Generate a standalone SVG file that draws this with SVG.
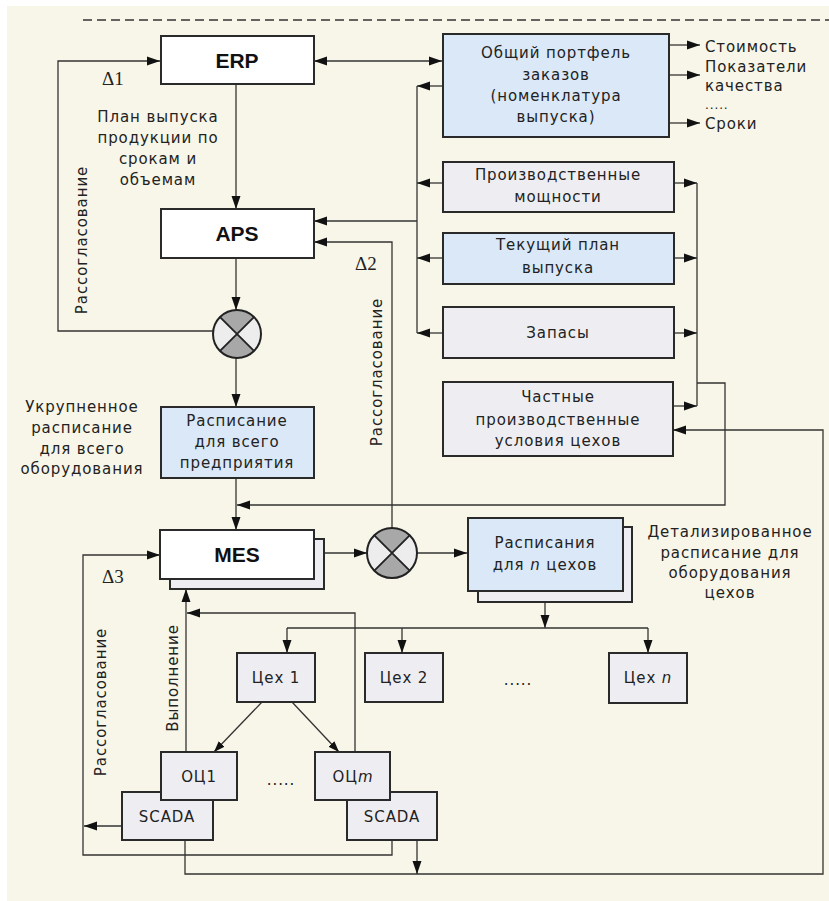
<svg xmlns="http://www.w3.org/2000/svg" width="829" height="901" viewBox="0 0 829 901">
<defs>
<marker id="ah" markerWidth="13" markerHeight="10" refX="13" refY="5" orient="auto-start-reverse" markerUnits="userSpaceOnUse">
<path d="M0,0.5 L13,5 L0,9.5 z" fill="#111"/>
</marker>
<marker id="as" markerWidth="11" markerHeight="9" refX="11" refY="4.5" orient="auto" markerUnits="userSpaceOnUse">
<path d="M0,0.5 L11,4.5 L0,8.5 z" fill="#111"/>
</marker>
</defs>
<style>
.bg{fill:#f8f6e9}
.box{stroke:#2a2a2a;stroke-width:2}
.w{fill:#ffffff}
.b{fill:#dae8f7}
.g{fill:#eeeef2}
.c{fill:none;stroke:#333;stroke-width:1.3}
.t{font-family:"DejaVu Sans",Verdana,sans-serif;font-size:15px;letter-spacing:0.9px;fill:#222;text-anchor:middle}
.l{text-anchor:start}
.h{font-family:"Liberation Sans",Arial,sans-serif;font-size:21px;font-weight:bold;fill:#111;text-anchor:middle}
.d{font-family:"Liberation Serif","Times New Roman",serif;font-size:19px;fill:#222}
.q1{fill:#a8a8a8}
.q2{fill:#ededed}
</style>
<rect x="0" y="0" width="829" height="901" fill="#ffffff"/>
<rect class="bg" x="7" y="6" width="822" height="895"/>
<line x1="83" y1="20" x2="829" y2="20" stroke="#333" stroke-width="1.3" stroke-dasharray="9,5"/>

<g id="connectors">
<path class="c" d="M236,84 V209" marker-end="url(#ah)"/>
<path class="c" d="M236,258 V310" marker-end="url(#ah)"/>
<path class="c" d="M236,358 V407" marker-end="url(#ah)"/>
<path class="c" d="M236,478 V530" marker-end="url(#ah)"/>
<path class="c" d="M213,331 H58 V61 H160" marker-end="url(#ah)"/>
<path class="c" d="M314,61 H442" marker-start="url(#ah)" marker-end="url(#ah)"/>
<path class="c" d="M442,86 H417" marker-end="url(#ah)"/>
<path class="c" d="M417,86 V333"/>
<path class="c" d="M442,183 H417" marker-end="url(#ah)"/>
<path class="c" d="M442,258 H417" marker-end="url(#ah)"/>
<path class="c" d="M442,333 H417" marker-end="url(#ah)"/>
<path class="c" d="M417,221 H314" marker-end="url(#ah)"/>
<path class="c" d="M674,183 H697" marker-end="url(#ah)"/>
<path class="c" d="M674,258 H697" marker-end="url(#ah)"/>
<path class="c" d="M674,333 H697" marker-end="url(#ah)"/>
<path class="c" d="M673,406 H697" marker-end="url(#ah)"/>
<path class="c" d="M697,183 V406"/>
<path class="c" d="M697,383 H725 V505 H237" marker-end="url(#ah)"/>
<path class="c" d="M669,45 H700" marker-end="url(#ah)"/>
<path class="c" d="M669,75 H700" marker-end="url(#ah)"/>
<path class="c" d="M669,123 H700" marker-end="url(#ah)"/>
<path class="c" d="M324,553 H367" marker-end="url(#ah)"/>
<path class="c" d="M417,553 H467" marker-end="url(#ah)"/>
<path class="c" d="M392,528 V242 H314" marker-end="url(#ah)"/>
<path class="c" d="M545,602 V628" marker-end="url(#ah)"/>
<path class="c" d="M287,628 H648"/>
<path class="c" d="M287,628 V653" marker-end="url(#ah)"/>
<path class="c" d="M402,628 V653" marker-end="url(#ah)"/>
<path class="c" d="M648,628 V653" marker-end="url(#ah)"/>
<path class="c" d="M262,702 L214,752" marker-end="url(#as)"/>
<path class="c" d="M292,702 L339,752" marker-end="url(#as)"/>
<path class="c" d="M186,752 V589" marker-end="url(#ah)"/>
<path class="c" d="M355,752 V613 H187" marker-end="url(#ah)"/>
<path class="c" d="M392,840 V855 H83 V555 H160" marker-end="url(#ah)"/>
<path class="c" d="M122,826 H84" marker-end="url(#ah)"/>
<path class="c" d="M185,840 V874 H823 V430 H673" marker-end="url(#ah)"/>
<path class="c" d="M417,840 V874" marker-end="url(#ah)"/>
</g>

<g id="erp">
<rect class="box w" x="161" y="36" width="153" height="48"/>
<text class="h" x="237" y="68">ERP</text>
</g>
<g id="aps">
<rect class="box w" x="161" y="209" width="153" height="49"/>
<text class="h" x="237" y="241">APS</text>
</g>
<g id="mes">
<rect class="box g" x="170" y="539" width="154" height="50"/>
<rect class="box w" x="160" y="530" width="154" height="49"/>
<text class="h" x="237" y="562">MES</text>
</g>
<g id="plan-label">
<text class="t" x="158" y="122">План выпуска</text>
<text class="t" x="158" y="143">продукции по</text>
<text class="t" x="158" y="164">срокам и</text>
<text class="t" x="158" y="185">объемам</text>
</g>
<g id="delta-labels">
<text class="d" x="102" y="85">Δ1</text>
<text class="d" x="355" y="270">Δ2</text>
<text class="d" x="102" y="583">Δ3</text>
</g>
<g id="mismatch-labels">
<text class="t" transform="translate(87,240) rotate(-90)">Рассогласование</text>
<text class="t" transform="translate(382,372) rotate(-90)">Рассогласование</text>
<text class="t" transform="translate(106,702) rotate(-90)">Рассогласование</text>
<text class="t" transform="translate(178,678) rotate(-90)">Выполнение</text>
</g>
<g id="portfolio">
<rect class="box b" x="443" y="34" width="226" height="103"/>
<text class="t" x="556" y="58">Общий портфель</text>
<text class="t" x="556" y="80">заказов</text>
<text class="t" x="556" y="101">(номенклатура</text>
<text class="t" x="556" y="122">выпуска)</text>
</g>
<g id="outputs">
<text class="t l" x="705" y="52">Стоимость</text>
<text class="t l" x="705" y="72">Показатели</text>
<text class="t l" x="705" y="91">качества</text>
<text class="t l" x="705" y="109" style="font-size:12px">.....</text>
<text class="t l" x="705" y="129">Сроки</text>
</g>
<g id="capacity">
<rect class="box g" x="443" y="162" width="231" height="50"/>
<text class="t" x="558" y="180">Производственные</text>
<text class="t" x="558" y="202">мощности</text>
</g>
<g id="current-plan">
<rect class="box b" x="443" y="233" width="231" height="51"/>
<text class="t" x="558" y="250">Текущий план</text>
<text class="t" x="558" y="273">выпуска</text>
</g>
<g id="stock">
<rect class="box g" x="443" y="307" width="231" height="51"/>
<text class="t" x="558" y="338">Запасы</text>
</g>
<g id="conditions">
<rect class="box g" x="443" y="382" width="230" height="74"/>
<text class="t" x="558" y="402">Частные</text>
<text class="t" x="558" y="425">производственные</text>
<text class="t" x="558" y="446">условия цехов</text>
</g>
<g id="circle1">
<circle cx="237" cy="334" r="24" class="q2"/>
<path class="q1" d="M237,334 L220.03,317.03 A24,24 0 0 1 253.97,317.03 Z"/>
<path class="q1" d="M237,334 L253.97,350.97 A24,24 0 0 1 220.03,350.97 Z"/>
<path d="M220.03,317.03 L253.97,350.97 M253.97,317.03 L220.03,350.97" stroke="#222" stroke-width="1.8"/>
<circle cx="237" cy="334" r="24" fill="none" stroke="#222" stroke-width="2"/>
</g>
<g id="enterprise-label">
<text class="t" x="82" y="412">Укрупненное</text>
<text class="t" x="82" y="433">расписание</text>
<text class="t" x="82" y="454">для всего</text>
<text class="t" x="82" y="474">оборудования</text>
</g>
<g id="enterprise-schedule">
<rect class="box b" x="161" y="407" width="153" height="71"/>
<text class="t" x="237" y="426">Расписание</text>
<text class="t" x="237" y="447">для всего</text>
<text class="t" x="237" y="468">предприятия</text>
</g>
<g id="circle2">
<circle cx="392" cy="553" r="25" class="q2"/>
<path class="q1" d="M392,553 L374.32,535.32 A25,25 0 0 1 409.68,535.32 Z"/>
<path class="q1" d="M392,553 L409.68,570.68 A25,25 0 0 1 374.32,570.68 Z"/>
<path d="M374.32,535.32 L409.68,570.68 M409.68,535.32 L374.32,570.68" stroke="#222" stroke-width="1.8"/>
<circle cx="392" cy="553" r="25" fill="none" stroke="#222" stroke-width="2"/>
</g>
<g id="shop-schedules">
<rect class="box g" x="478" y="527" width="154" height="75"/>
<rect class="box b" x="468" y="518" width="155" height="73"/>
<text class="t" x="545" y="548">Расписания</text>
<text class="t" x="545" y="570">для <tspan font-style="italic">n</tspan> цехов</text>
</g>
<g id="detail-label">
<text class="t" x="730" y="537">Детализированное</text>
<text class="t" x="730" y="558">расписание для</text>
<text class="t" x="730" y="578">оборудования</text>
<text class="t" x="730" y="598">цехов</text>
</g>
<g id="shop1">
<rect class="box g" x="237" y="653" width="78" height="49"/>
<text class="t" x="276" y="683">Цех 1</text>
</g>
<g id="shop2">
<rect class="box g" x="365" y="653" width="78" height="49"/>
<text class="t" x="404" y="683">Цех 2</text>
</g>
<text class="t" x="518" y="685">.....</text>
<g id="shopn">
<rect class="box g" x="609" y="653" width="78" height="50"/>
<text class="t" x="648" y="683">Цех <tspan font-style="italic">n</tspan></text>
</g>
<g id="oc1">
<rect class="box g" x="122" y="792" width="91" height="48"/>
<rect class="box g" x="161" y="752" width="76" height="48"/>
<text class="t" x="199" y="782">ОЦ1</text>
<text class="t" x="167" y="822">SCADA</text>
</g>
<text class="t" x="281" y="785">.....</text>
<g id="ocm">
<rect class="box g" x="347" y="792" width="90" height="48"/>
<rect class="box g" x="315" y="752" width="75" height="48"/>
<text class="t" x="353" y="782">ОЦ<tspan font-style="italic">m</tspan></text>
<text class="t" x="392" y="822">SCADA</text>
</g>
</svg>
